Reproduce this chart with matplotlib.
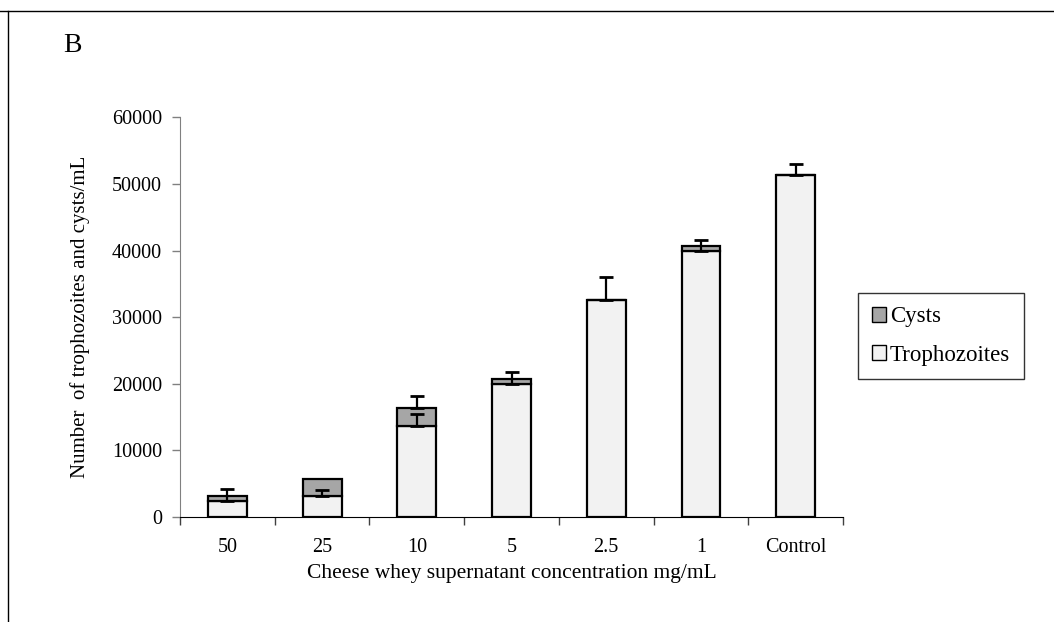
import numpy as np
import matplotlib
matplotlib.use("Agg")
import matplotlib.pyplot as plt
from matplotlib.patches import Patch
from matplotlib.lines import Line2D

plt.rcParams["font.family"] = ["Liberation Serif", "DejaVu Serif"]

# data
concentrations = ["50", "25", "10", "5", "2.5", "1", "Control"]
trophozoites = [2450, 3160, 13730, 19950, 32530, 39950, 51280]
cysts = [700, 2500, 2610, 700, 0, 700, 0]
troph_err = [1750, 850, 1800, 1750, 3500, 1650, 1700]
cyst_err = [0, 0, 1800, 0, 0, 0, 0]

troph_color = "#f2f2f2"
cyst_color = "#a6a6a6"


def main():
    fig = plt.figure(figsize=(10.54, 6.22), dpi=100)
    ax = fig.add_axes([0.1708, 0.1688, 0.6290, 0.6426])

    x = np.arange(len(concentrations))
    width = 0.41

    ax.bar(x, trophozoites, width, color=troph_color, edgecolor="black",
           linewidth=1.6, zorder=2)
    ax.bar(x, cysts, width, bottom=trophozoites, color=cyst_color,
           edgecolor="black", linewidth=1.6, zorder=2)

    # error bars, upper side only
    tops = np.array(trophozoites) + np.array(cysts)
    ax.errorbar(x, trophozoites, yerr=[np.zeros(len(x)), troph_err],
                fmt="none", ecolor="black", elinewidth=1.6, capsize=5,
                capthick=2, zorder=3)
    ce = np.array(cyst_err)
    m = ce > 0
    ax.errorbar(x[m], tops[m], yerr=[np.zeros(m.sum()), ce[m]],
                fmt="none", ecolor="black", elinewidth=1.6, capsize=5,
                capthick=2, zorder=3)

    ax.set_xlim(-0.5, len(x) - 0.5)
    ax.set_ylim(0, 60000)
    ax.set_yticks(np.arange(0, 60001, 10000))

    ax.set_xticks(x)
    ax.set_xticklabels(concentrations)
    ax.set_xticks(np.arange(-0.5, len(x), 1.0), minor=True)
    ax.tick_params(axis="x", which="major", length=0, pad=15, labelsize=14.5)
    ax.tick_params(axis="x", which="minor", length=6, width=1, direction="out",
                   color="#404040")
    ax.tick_params(axis="y", length=6, width=1, direction="out",
                   color="#808080", pad=7, labelsize=14.5)

    for s in ["top", "right"]:
        ax.spines[s].set_visible(False)
    ax.spines["left"].set_color("#808080")
    ax.spines["bottom"].set_color("black")

    ax.set_xlabel("Cheese whey supernatant concentration mg/mL", fontsize=15.5,
                  labelpad=5)
    ax.set_ylabel("Number  of trophozoites and cysts/mL", fontsize=15,
                  labelpad=16)

    handles = [
        Patch(facecolor=cyst_color, edgecolor="black", linewidth=1),
        Patch(facecolor=troph_color, edgecolor="black", linewidth=1),
    ]
    leg = fig.legend(handles, ["Cysts", "Trophozoites"], loc="center left",
                     bbox_to_anchor=(858 / 1054, 1 - 336 / 622),
                     frameon=True, fancybox=False, fontsize=16.5,
                     handlelength=0.6, handleheight=0.6, handletextpad=0.2,
                     labelspacing=0.75, borderpad=0.6, borderaxespad=0)
    leg.get_frame().set_edgecolor("black")
    leg.get_frame().set_linewidth(1)

    fig.text(63 / 1054, 1 - 46 / 622, "B", fontsize=20, va="center",
             ha="left")

    # outer frame lines (top and left)
    fig.add_artist(Line2D([0, 1], [1 - 11 / 622, 1 - 11 / 622],
                          transform=fig.transFigure, color="black", lw=1))
    fig.add_artist(Line2D([8 / 1054, 8 / 1054], [0, 1 - 11 / 622],
                          transform=fig.transFigure, color="black", lw=1))

    fig.savefig("out.png", dpi=100)


if __name__ == "__main__":
    main()
